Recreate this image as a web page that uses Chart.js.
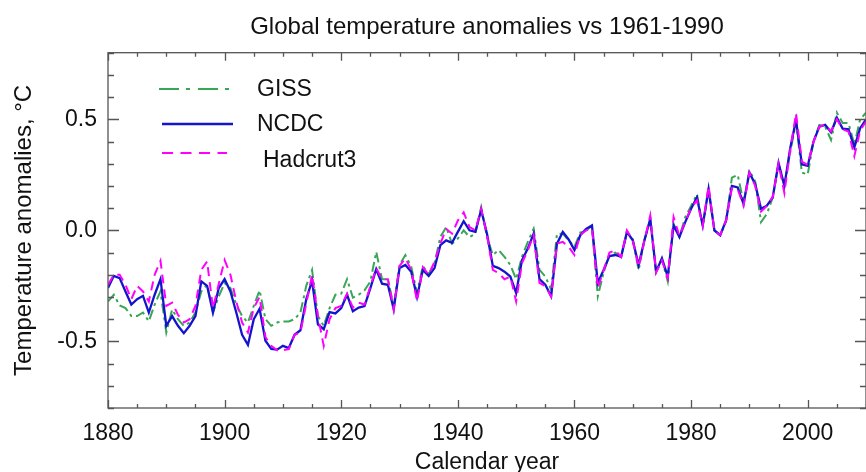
<!DOCTYPE html>
<html>
<head>
<meta charset="utf-8">
<script src="https://cdn.jsdelivr.net/npm/chart.js@4.4.1/dist/chart.umd.min.js"></script>
<style>
  html, body { margin: 0; padding: 0; background: #fff; }
  #wrap { width: 866px; height: 472px; }
</style>
</head>
<body>
<div id="wrap"><canvas id="c" width="866" height="472"></canvas></div>
<script>
// ---------- data ----------
const years = [];
for (let y = 1880; y <= 2010; y++) years.push(y);

const seriesNames = ["GISS", "NCDC", "Hadcrut3"];

const giss = [
 -0.32,-0.29,-0.338,-0.35,-0.386,-0.386,-0.37,-0.41,-0.334,-0.275,
 -0.46,-0.356,-0.40,-0.43,-0.415,-0.37,-0.275,-0.245,-0.37,-0.297,
 -0.237,-0.26,-0.334,-0.386,-0.415,-0.34,-0.27,-0.40,-0.43,-0.415,
 -0.41,-0.41,-0.40,-0.37,-0.25,-0.178,-0.386,-0.43,-0.35,-0.29,
 -0.285,-0.22,-0.303,-0.29,-0.27,-0.23,-0.097,-0.22,-0.22,-0.34,
 -0.156,-0.111,-0.163,-0.282,-0.16,-0.197,-0.148,-0.03,0.015,-0.06,
 -0.037,0.0,-0.03,-0.015,0.104,-0.03,-0.111,-0.089,-0.119,-0.156,
 -0.22,-0.119,-0.052,0.007,-0.178,-0.208,-0.267,-0.015,-0.015,-0.045,
 -0.074,-0.01,0.0,0.02,-0.297,-0.19,-0.11,-0.10,-0.12,-0.01,
 -0.04,-0.18,-0.045,0.045,-0.19,-0.13,-0.23,0.03,-0.03,0.06,
 0.11,0.163,0.02,0.18,0.0,-0.02,0.04,0.237,0.25,0.125,
 0.27,0.22,0.037,0.074,0.148,0.30,0.20,0.35,0.49,0.26,
 0.252,0.40,0.475,0.467,0.407,0.53,0.483,0.483,0.386,0.50,
 0.53
];

const ncdc = [
 -0.26,-0.205,-0.215,-0.275,-0.334,-0.31,-0.295,-0.37,-0.29,-0.22,
 -0.43,-0.386,-0.43,-0.463,-0.43,-0.386,-0.23,-0.25,-0.37,-0.26,
 -0.22,-0.275,-0.37,-0.47,-0.516,-0.40,-0.353,-0.497,-0.534,-0.537,
 -0.52,-0.53,-0.47,-0.45,-0.31,-0.227,-0.423,-0.445,-0.368,-0.374,
 -0.35,-0.29,-0.364,-0.348,-0.341,-0.26,-0.175,-0.24,-0.245,-0.356,
 -0.17,-0.156,-0.186,-0.30,-0.178,-0.205,-0.17,-0.067,-0.045,-0.056,
 -0.007,0.041,0.0,-0.007,0.092,-0.015,-0.16,-0.17,-0.186,-0.208,
 -0.282,-0.134,-0.082,-0.015,-0.22,-0.245,-0.297,-0.06,-0.007,-0.041,
 -0.089,-0.022,0.007,0.022,-0.237,-0.178,-0.116,-0.111,-0.119,-0.007,
 -0.045,-0.156,-0.045,0.052,-0.186,-0.126,-0.208,0.022,-0.03,0.037,
 0.097,0.148,0.022,0.186,0.0,-0.022,0.045,0.20,0.193,0.119,
 0.26,0.208,0.097,0.111,0.148,0.304,0.20,0.37,0.497,0.297,
 0.29,0.40,0.467,0.475,0.442,0.507,0.458,0.455,0.374,0.46,
 0.50
];

const hadcrut3 = [
 -0.245,-0.20,-0.20,-0.245,-0.31,-0.25,-0.275,-0.32,-0.20,-0.137,
 -0.34,-0.326,-0.38,-0.415,-0.40,-0.34,-0.178,-0.14,-0.35,-0.24,
 -0.134,-0.20,-0.32,-0.415,-0.46,-0.35,-0.30,-0.48,-0.52,-0.54,
 -0.54,-0.535,-0.47,-0.46,-0.33,-0.20,-0.386,-0.52,-0.40,-0.35,
 -0.34,-0.285,-0.348,-0.326,-0.334,-0.252,-0.17,-0.22,-0.22,-0.356,
 -0.16,-0.126,-0.178,-0.32,-0.166,-0.20,-0.141,-0.06,0.007,-0.015,
 0.044,0.081,0.015,0.0,0.097,-0.022,-0.178,-0.193,-0.22,-0.208,
 -0.32,-0.148,-0.089,-0.022,-0.237,-0.252,-0.297,-0.06,-0.052,-0.074,
 -0.111,-0.02,0.0,0.01,-0.26,-0.18,-0.10,-0.09,-0.12,0.0,
 -0.045,-0.165,-0.045,0.067,-0.19,-0.135,-0.215,0.06,-0.025,0.04,
 0.10,0.135,0.02,0.20,-0.005,-0.02,0.045,0.19,0.185,0.11,
 0.26,0.20,0.085,0.11,0.15,0.30,0.168,0.36,0.527,0.31,
 0.295,0.40,0.467,0.475,0.445,0.50,0.455,0.445,0.334,0.45,
 0.49
];

// axis settings
const xMin = 1880, xMax = 2010, xMajor = 20, xMinor = 5;
const yMin = -0.8, yMax = 0.8, yMajor = 0.5, yMinor = 0.1;

// ---------- styles ----------
const FONT = '"Liberation Sans", Arial, Helvetica, sans-serif';
const colGiss = '#38a655';
const colNcdc = '#1414cc';
const colHad = '#ff00ff';
const dashGiss = [10, 4, 3, 4];
const dashHad = [9, 6];

Chart.defaults.font.family = FONT;
Chart.defaults.color = '#111';

const toPts = arr => years.map((yr, i) => ({ x: yr, y: arr[i] }));

const framePlugin = {
  id: 'frame',
  afterDatasetsDraw(chart) {
    const { ctx, chartArea: a, scales: { x, y } } = chart;
    ctx.save();
    ctx.strokeStyle = '#555';
    ctx.lineWidth = 1.3;
    ctx.setLineDash([]);
    ctx.strokeRect(a.left, a.top, a.right - a.left, a.bottom - a.top);
    ctx.beginPath();
    for (let v = xMin; v <= xMax + 1e-9; v += xMinor) {
      const px = Math.round(x.getPixelForValue(v)) + 0.5;
      const len = (Math.abs((v - xMin) % xMajor) < 1e-6) ? 8 : 4;
      ctx.moveTo(px, a.bottom); ctx.lineTo(px, a.bottom - len);
      ctx.moveTo(px, a.top); ctx.lineTo(px, a.top + len);
    }
    const nY = Math.round((yMax - yMin) / yMinor);
    for (let k = 0; k <= nY; k++) {
      const v = yMin + k * yMinor;
      const py = Math.round(y.getPixelForValue(v)) + 0.5;
      const r = v / yMajor;
      const major = Math.abs(r - Math.round(r)) < 1e-6;
      const len = major ? 11 : 6;
      ctx.moveTo(a.left, py); ctx.lineTo(a.left + len, py);
      ctx.moveTo(a.right, py); ctx.lineTo(a.right - len, py);
    }
    ctx.stroke();
    ctx.restore();
  }
};

const legendPlugin = {
  id: 'customLegend',
  afterDraw(chart) {
    const { ctx } = chart;
    const items = [
      { name: seriesNames[0], color: colGiss, dash: [20, 7, 4, 8], width: 2.2, x0: 159, x1: 232, ly: 89, tx: 257, ty: 89 },
      { name: seriesNames[1], color: colNcdc, dash: [], width: 2.4, x0: 162, x1: 233, ly: 124, tx: 257, ty: 124 },
      { name: seriesNames[2], color: colHad, dash: [11, 7.5], width: 2.2, x0: 162, x1: 227, ly: 153, tx: 263, ty: 160 }
    ];
    ctx.save();
    items.forEach(it => {
      ctx.strokeStyle = it.color;
      ctx.lineWidth = it.width;
      ctx.setLineDash(it.dash);
      ctx.beginPath();
      ctx.moveTo(it.x0, it.ly);
      ctx.lineTo(it.x1, it.ly);
      ctx.stroke();
      ctx.setLineDash([]);
      ctx.fillStyle = '#111';
      ctx.font = '23px ' + FONT;
      ctx.textAlign = 'left';
      ctx.textBaseline = 'middle';
      ctx.fillText(it.name, it.tx, it.ty + 1);
    });
    ctx.restore();
  }
};

new Chart(document.getElementById('c'), {
  type: 'line',
  data: {
    datasets: [
      { label: seriesNames[2], data: toPts(hadcrut3), borderColor: colHad, borderWidth: 2, borderDash: dashHad, order: 1 },
      { label: seriesNames[1], data: toPts(ncdc), borderColor: colNcdc, borderWidth: 2.3, order: 2 },
      { label: seriesNames[0], data: toPts(giss), borderColor: colGiss, borderWidth: 2, borderDash: dashGiss, order: 3 }
    ]
  },
  options: {
    responsive: false,
    animation: false,
    layout: { padding: 0 },
    elements: { point: { radius: 0 }, line: { tension: 0, fill: false } },
    plugins: {
      legend: { display: false },
      tooltip: { enabled: false },
      title: {
        display: true,
        text: 'Global temperature anomalies vs 1961-1990',
        fullSize: false,
        font: { size: 24, weight: 'normal' },
        color: '#111',
        padding: { top: 12.6, bottom: 11.3 }
      }
    },
    scales: {
      x: {
        type: 'linear',
        min: xMin, max: xMax,
        grid: { display: false, drawTicks: false },
        border: { display: false },
        ticks: {
          stepSize: xMajor,
          includeBounds: false,
          maxRotation: 0,
          autoSkip: false,
          padding: 12,
          font: { size: 23 },
          color: '#111',
          callback: v => String(v)
        },
        title: {
          display: true,
          text: 'Calendar year',
          font: { size: 23 },
          color: '#111',
          padding: { top: 0, bottom: -4 }
        },
        afterFit: s => { s.height = 64; }
      },
      y: {
        type: 'linear',
        min: yMin, max: yMax,
        grid: { display: false, drawTicks: false },
        border: { display: false },
        ticks: {
          stepSize: yMajor,
          includeBounds: false,
          padding: 11,
          font: { size: 23 },
          color: '#111',
          callback: v => Number(v).toFixed(1)
        },
        title: {
          display: true,
          text: 'Temperature anomalies, °C',
          font: { size: 24 },
          color: '#111',
          padding: { top: 10, bottom: 0 }
        },
        afterFit: s => { s.width = 108; }
      }
    }
  },
  plugins: [framePlugin, legendPlugin]
});
</script>
</body>
</html>
